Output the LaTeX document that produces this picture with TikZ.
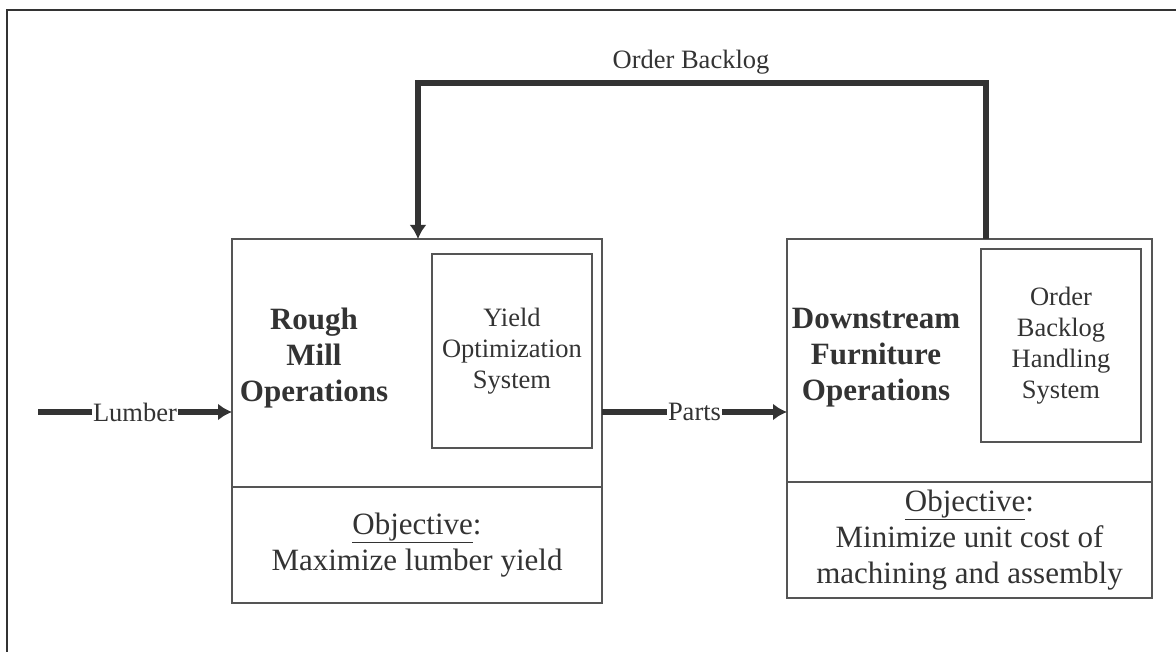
\documentclass[tikz,border=0pt]{standalone}
\usepackage{fontspec}
\setmainfont{Liberation Serif}
\usepackage{xcolor}
\usetikzlibrary{arrows.meta}
\definecolor{inkgray}{HTML}{333333}
\definecolor{boxgray}{HTML}{555555}
\newcommand{\bigtxt}{\fontsize{31}{36}\selectfont}
\newcommand{\smalltxt}{\fontsize{26.5}{31}\selectfont}
\tikzset{
	stagebox/.style={draw=boxgray, line width=1.5pt, inner sep=0pt, outer sep=0pt, text=inkgray},
	sysbox/.style={stagebox, align=center, font=\smalltxt},
	objbox/.style={stagebox, align=center, font=\bigtxt},
	flow/.style={draw=inkgray, line width=5.5pt},
	flowlabel/.style={fill=white, inner sep=1pt, text=inkgray, font=\smalltxt}
}

\begin{document}
\begin{tikzpicture}[x=1pt,y=-1pt,>={Latex[length=14pt,width=17pt]}]
	\useasboundingbox (0,0) rectangle (1176,652);

	% frame
	\draw[inkgray, line width=2.5pt] (7,660) -- (7,10) -- (1180,10);

	% rough mill
	\node[stagebox, minimum width=370pt, minimum height=248pt] (rmill) at (417,363) {};
	\node[objbox, minimum width=370pt, minimum height=116pt] (rmobj) at (417,545)
		{\underline{Objective}:\\Maximize lumber yield};
	\node[sysbox, minimum width=160pt, minimum height=194pt] (yieldsys) at (512,351)
		{Yield\\Optimization\\System};
	\node[align=center, text=inkgray, font=\bigtxt\bfseries] (rmtitle) at (314,358)
		{Rough\\Mill\\Operations};

	% downstream furniture
	\node[stagebox, minimum width=365pt, minimum height=243pt] (dfurn) at (969.5,360.5) {};
	\node[objbox, minimum width=365pt, minimum height=116pt] (dfobj) at (969.5,540)
		{\underline{Objective}:\\Minimize unit cost of\\machining and assembly};
	\node[sysbox, minimum width=160pt, minimum height=193pt] (backlogsys) at (1061,345.5)
		{Order\\Backlog\\Handling\\System};
	\node[align=center, text=inkgray, font=\bigtxt\bfseries] (dftitle) at (876,358)
		{Downstream\\Furniture\\Operations};

	% material flow
	\coordinate (lumberin) at (38,412);
	\draw[flow,->] (lumberin) -- node[flowlabel] {Lumber} (lumberin -| rmill.west);
	\draw[flow,->] (rmill.east |- lumberin) -- node[flowlabel] {Parts} (dfurn.west |- lumberin);

	% backlog feedback
	\coordinate (fbright) at (986,83);
	\coordinate (fbleft) at (418,83);
	\draw[flow,->] (fbright |- dfurn.north) -- (fbright) -- (fbleft) -- (fbleft |- rmill.north);
	\node[text=inkgray, font=\smalltxt] (fblabel) at (691,62) {Order Backlog};
\end{tikzpicture}
\end{document}
